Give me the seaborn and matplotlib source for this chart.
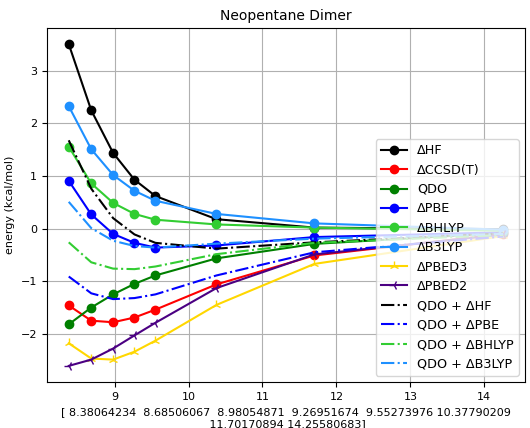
import matplotlib
matplotlib.use("Agg")
import matplotlib.pyplot as plt
import seaborn as sns
import numpy as np
import pandas as pd

x = [8.38064234, 8.68506067, 8.98054871, 9.26951674, 9.55273976,
     10.37790209, 11.70170894, 14.25580683]

d_hf = [3.51, 2.25, 1.44, 0.93, 0.62, 0.18, 0.02, -0.01]
d_ccsdt = [-1.46, -1.75, -1.78, -1.69, -1.54, -1.06, -0.51, -0.10]
qdo = [-1.82, -1.50, -1.25, -1.05, -0.89, -0.565, -0.29, -0.08]
d_pbe = [0.91, 0.27, -0.10, -0.27, -0.36, -0.32, -0.16, -0.07]
d_bhlyp = [1.56, 0.86, 0.49, 0.28, 0.17, 0.08, 0.02, -0.04]
d_b3lyp = [2.33, 1.51, 1.02, 0.72, 0.53, 0.28, 0.10, -0.02]
d_pbed3 = [-2.18, -2.47, -2.49, -2.34, -2.13, -1.45, -0.67, -0.14]
d_pbed2 = [-2.61, -2.49, -2.28, -2.03, -1.79, -1.13, -0.49, -0.11]
qdo_hf = [1.68, 0.76, 0.20, -0.11, -0.27, -0.38, -0.26, -0.09]
qdo_pbe = [-0.91, -1.23, -1.34, -1.32, -1.25, -0.89, -0.45, -0.15]
qdo_bhlyp = [-0.26, -0.64, -0.76, -0.77, -0.72, -0.485, -0.27, -0.12]
qdo_b3lyp = [0.51, 0.01, -0.23, -0.33, -0.36, -0.285, -0.19, -0.10]

series = [
    ("ΔHF", d_hf, "black", "-", "o"),
    ("ΔCCSD(T)", d_ccsdt, "red", "-", "o"),
    ("QDO", qdo, "green", "-", "o"),
    ("ΔPBE", d_pbe, "blue", "-", "o"),
    ("ΔBHLYP", d_bhlyp, "limegreen", "-", "o"),
    ("ΔB3LYP", d_b3lyp, "dodgerblue", "-", "o"),
    ("ΔPBED3", d_pbed3, "gold", "-", "2"),
    ("ΔPBED2", d_pbed2, "indigo", "-", "3"),
    ("QDO + ΔHF", qdo_hf, "black", "-.", None),
    ("QDO + ΔPBE", qdo_pbe, "blue", "-.", None),
    ("QDO + ΔBHLYP", qdo_bhlyp, "limegreen", "-.", None),
    ("QDO + ΔB3LYP", qdo_b3lyp, "dodgerblue", "-.", None),
]

xlabel = ("[ 8.38064234  8.68506067  8.98054871  9.26951674  9.55273976 10.37790209\n"
          " 11.70170894 14.25580683]")

plt.rcParams["font.family"] = ["DejaVu Sans"]
fig = plt.figure(figsize=(5.3, 4.28), dpi=100)
ax = fig.add_axes([0.0887, 0.1075, 0.9019, 0.8271])

for label, y, color, ls, marker in series:
    kw = dict(x=x, y=y, color=color, linestyle=ls, label=label, ax=ax,
              linewidth=1.5, sort=False)
    if marker is not None:
        kw.update(marker=marker, markersize=6 if marker == "o" else 7,
                  markeredgecolor=color, markeredgewidth=1.0)
    sns.lineplot(**kw)

ax.grid(True, color="#b0b0b0", linewidth=0.8)
ax.set_axisbelow(True)
ax.set_title("Neopentane Dimer", fontsize=10)
ax.set_ylabel("energy (kcal/mol)", fontsize=8)
ax.set_xlabel(xlabel, fontsize=8)
ax.tick_params(labelsize=8)
ax.margins(x=0.05, y=0.05)
ax.legend(loc="lower right", fontsize=9.2)

fig.savefig("out.png", dpi=100)
